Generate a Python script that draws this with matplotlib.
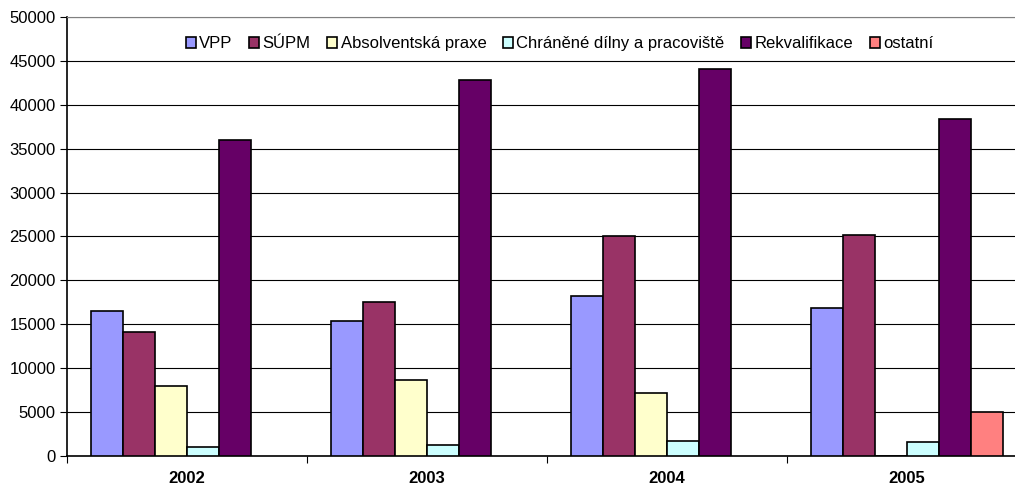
import matplotlib.pyplot as plt
import numpy as np

plt.rcParams['font.family'] = ['Liberation Sans', 'DejaVu Sans']

# Data
years = ['2002', '2003', '2004', '2005']
series = ['VPP', 'SÚPM', 'Absolventská praxe', 'Chráněné dílny a pracoviště',
          'Rekvalifikace', 'ostatní']
vpp = [16550, 15380, 18220, 16820]
supm = [14100, 17570, 25060, 25130]
absolv = [7940, 8660, 7180, 50]
chranene = [1060, 1250, 1670, 1630]
rekval = [36000, 42770, 44080, 38380]
ostatni = [0, 0, 0, 4980]
colors = ['#9999FF', '#993366', '#FFFFCC', '#CCFFFF', '#660066', '#FF8080']

values = [vpp, supm, absolv, chranene, rekval, ostatni]

fig = plt.figure(figsize=(10.15, 4.92), dpi=100)
ax = fig.add_axes([67 / 1015, 36 / 492, 960 / 1015, 439 / 492])

x = np.arange(len(years))
w = 0.8 / 6
for i, (name, vals) in enumerate(zip(series, values)):
    v = np.array(vals, dtype=float)
    v[v == 0] = np.nan  # no mark for empty categories
    ax.bar(x - 0.4 + w * (i + 0.5), v, w, color=colors[i],
           edgecolor='black', linewidth=1.2, label=name, zorder=3)

ax.set_xlim(-0.5, len(years) - 0.5)
ax.set_ylim(0, 50000)
ax.set_yticks(np.arange(0, 50001, 5000))
ax.yaxis.grid(True, color='black', linewidth=0.8, zorder=0)
ax.set_xticks(np.arange(-0.5, len(years), 1.0))
ax.set_xticklabels([])
ax.set_xticks(x, minor=True)
ax.set_xticklabels(years, minor=True, fontweight='bold', fontsize=12)
ax.tick_params(axis='x', which='minor', length=0, pad=11)
ax.tick_params(axis='x', which='major', length=5, direction='out')
ax.tick_params(axis='y', length=5, direction='out', labelsize=12, pad=3)

ax.spines['right'].set_visible(False)
ax.spines['top'].set_color('#808080')
ax.spines['left'].set_linewidth(1.2)
ax.spines['bottom'].set_linewidth(1.2)

leg = ax.legend(loc='upper center', bbox_to_anchor=(0.513, 0.99), ncol=6,
                frameon=False, fontsize=12, handlelength=0.6, handleheight=0.6,
                handletextpad=0.2, columnspacing=1.0)

fig.savefig('out.png', dpi=100)
